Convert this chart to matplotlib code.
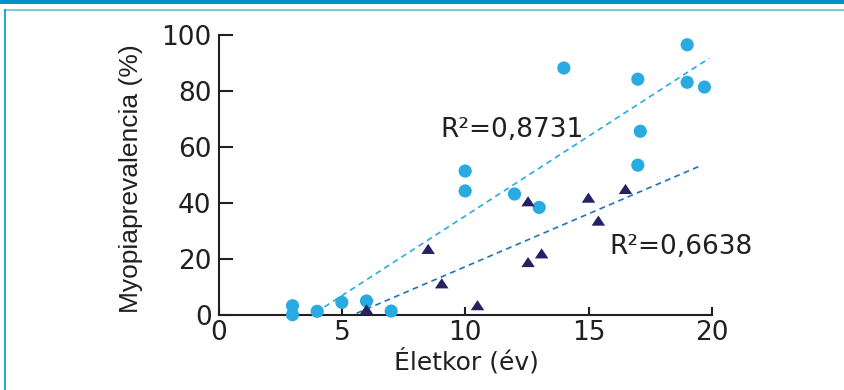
import matplotlib
matplotlib.use("Agg")
import matplotlib.pyplot as plt
from matplotlib.lines import Line2D
from matplotlib.patches import Rectangle

# circles (light blue series)
circle_age = [3, 3, 4, 5, 6, 7, 10, 10, 12, 13, 14, 17, 17.1, 17, 19, 19, 19.7]
circle_prev = [3.2, 0, 1.2, 4.4, 4.9, 1.3, 51.3, 44.2, 43.1, 38.3, 88.1, 84.1, 65.5, 53.4, 96.4, 83.0, 81.3]

# triangles (dark series)
tri_age = [6, 8.5, 9.05, 10.5, 12.55, 12.55, 13.1, 15, 15.4, 16.5]
tri_prev = [1.9, 23.5, 11.2, 3.4, 40.5, 18.8, 21.9, 41.8, 33.6, 44.9]

# trend lines, endpoints
trend1_x = [3.95, 19.9]
trend1_y = [0.8, 91.6]
trend2_x = [5.6, 19.6]
trend2_y = [0.5, 53.4]

r2_labels = ["R²=0,8731", "R²=0,6638"]

light = "#29abe2"
mid = "#1c75bc"
navy = "#262262"
ink = "#231f20"

fig = plt.figure(figsize=(8.44, 3.9), dpi=100)
ax = fig.add_axes([0.2589, 0.1931, 0.5845, 0.718])

ax.plot(trend1_x, trend1_y, color=light, lw=1.2, dashes=(3.5, 2.6), zorder=2)
ax.plot(trend2_x, trend2_y, color=mid, lw=1.2, dashes=(3.5, 2.6), zorder=2)

ax.scatter(circle_age, circle_prev, s=90, color=light, edgecolors="none",
           zorder=3, clip_on=False)
tri = [(-1, -0.75), (1, -0.75), (0, 0.75)]
ax.scatter(tri_age, tri_prev, s=95, marker=tri, color=navy, edgecolors="none",
           zorder=4, clip_on=False)

ax.text(8.98, 63.6, r2_labels[0], fontsize=19, va="baseline", ha="left", color=ink)
ax.text(15.83, 21.6, r2_labels[1], fontsize=19, va="baseline", ha="left", color=ink)

ax.set_xlim(0, 20)
ax.set_ylim(0, 100)
ax.set_xticks([0, 5, 10, 15, 20])
ax.set_yticks([0, 20, 40, 60, 80, 100])

for s in ["top", "right"]:
    ax.spines[s].set_visible(False)
for s in ["left", "bottom"]:
    ax.spines[s].set_linewidth(1.5)
    ax.spines[s].set_color(ink)

ax.tick_params(axis="y", direction="in", length=10, width=1.5, color=ink,
               labelsize=19, pad=5, labelcolor=ink)
ax.tick_params(axis="x", direction="in", length=6, width=1.5, color=ink,
               labelsize=19, pad=4, labelcolor=ink)

ax.set_xlabel("Életkor (év)", fontsize=18, color=ink, va="center")
ax.xaxis.set_label_coords(0.502, -0.165)
ax.set_ylabel("Myopiaprevalencia (%)", fontsize=19, color=ink,
              family="Liberation Sans")
ax.yaxis.set_label_coords(-0.154, 0.485)

# page frame: top bar, thin line below it, left edge
fig.add_artist(Rectangle((0, 1 - 4 / 390), 1, 4 / 390, transform=fig.transFigure,
                         color="#0091c4", lw=0))
fig.add_artist(Line2D([4.5 / 844, 1], [1 - 9.8 / 390, 1 - 9.8 / 390],
                      transform=fig.transFigure, color="#7ec8de", lw=1.4))
fig.add_artist(Line2D([4.5 / 844, 4.5 / 844], [0, 1 - 9.8 / 390],
                      transform=fig.transFigure, color="#0096d0", lw=1.2))

fig.savefig("out.png", dpi=100)
